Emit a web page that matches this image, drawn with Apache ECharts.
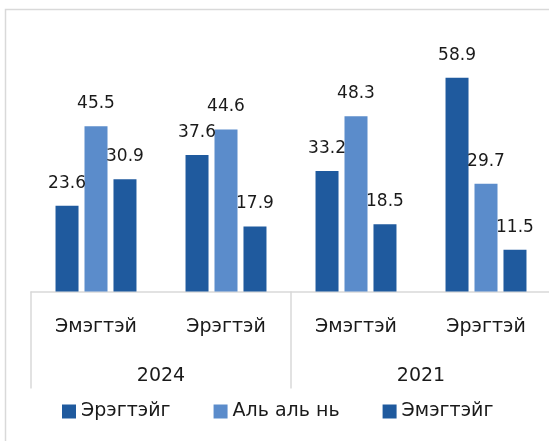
<!DOCTYPE html>
<html>
<head>
<meta charset="utf-8">
<script src="https://cdn.jsdelivr.net/npm/echarts@6/dist/echarts.min.js"></script>
<style>
  html, body { margin: 0; padding: 0; background: #fff; }
  #chart { width: 549px; height: 441px; }
</style>
</head>
<body>
<div id="chart"></div>
<script>
const categories = ['Эмэгтэй', 'Эрэгтэй', 'Эмэгтэй', 'Эрэгтэй']
const years = ['2024', '2021']
const seriesNames = ['Эрэгтэйг', 'Аль аль нь', 'Эмэгтэйг']
const maleValues = [23.6, 37.6, 33.2, 58.9]
const bothValues = [45.5, 44.6, 48.3, 29.7]
const femaleValues = [30.9, 17.9, 18.5, 11.5]

const font = 'DejaVu Sans'
const textColor = '#1a1a1a'
const lineColor = '#d9d9d9'
const colors = ['#1f5a9e', '#5b8ccb', '#1f5a9e']

const chart = echarts.init(document.getElementById('chart'))

const makeSeries = (name, data, color) => ({
  name,
  type: 'bar',
  data,
  barWidth: 23,
  barGap: '26%',
  itemStyle: { color },
  label: {
    show: true,
    position: 'top',
    distance: 14,
    fontFamily: font,
    fontSize: 17,
    color: textColor
  }
})

chart.setOption({
  animation: false,
  textStyle: { fontFamily: font },
  graphic: [{
    type: 'rect',
    shape: { x: 5.5, y: 9.5, width: 600, height: 500 },
    style: { fill: 'none', stroke: lineColor, lineWidth: 1.5 },
    silent: true
  }],
  // the plot runs a little past the right edge, as in the original
  grid: { left: 31, width: 520, top: 37.4, height: 254, outerBoundsMode: 'none', containLabel: false },
  legend: {
    bottom: 15,
    left: 57,
    itemWidth: 14,
    itemHeight: 14,
    itemGap: 43,
    icon: 'rect',
    textStyle: { fontFamily: font, fontSize: 19, color: textColor }
  },
  xAxis: [
    {
      type: 'category',
      data: categories,
      position: 'bottom',
      axisLine: { show: true, lineStyle: { color: lineColor, width: 1.5 } },
      axisTick: { show: false },
      axisLabel: { margin: 26, fontFamily: font, fontSize: 19, color: textColor, interval: 0 }
    },
    {
      type: 'category',
      data: years,
      position: 'bottom',
      axisLine: { show: false },
      axisTick: { show: true, length: 97, lineStyle: { color: lineColor, width: 1.5 } },
      axisLabel: { margin: 75, fontFamily: font, fontSize: 19, color: textColor }
    }
  ],
  yAxis: {
    type: 'value',
    min: 0,
    max: 70,
    show: false,
    splitLine: { show: false }
  },
  series: [
    makeSeries(seriesNames[0], maleValues, colors[0]),
    makeSeries(seriesNames[1], bothValues, colors[1]),
    makeSeries(seriesNames[2], femaleValues, colors[2])
  ]
})
</script>
</body>
</html>
